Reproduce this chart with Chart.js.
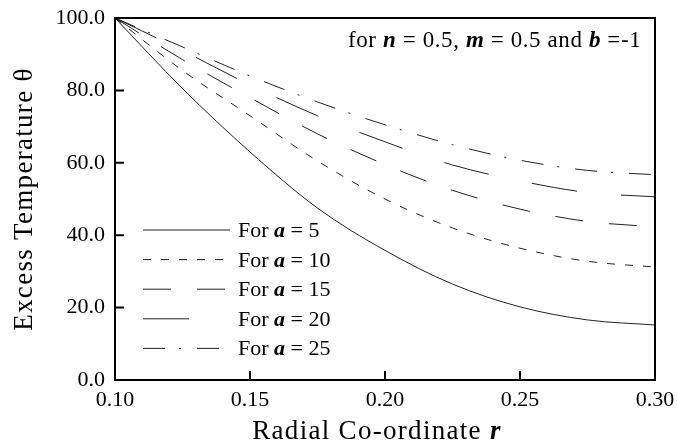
<!DOCTYPE html>
<html>
<head>
<meta charset="utf-8">
<script src="https://cdn.jsdelivr.net/npm/chart.js@4.4.1/dist/chart.umd.min.js"></script>
<style>
  html, body { margin: 0; padding: 0; background: #fff; }
  #wrap { width: 678px; height: 445px; }
</style>
</head>
<body>
<div id="wrap"><canvas id="chart" width="678" height="445"></canvas></div>
<script>
// radial co-ordinate r
const radius = [0.10, 0.125, 0.15, 0.175, 0.20, 0.225, 0.25, 0.275, 0.30];

// excess temperature for each a
const thetaA5  = [100, 80.5, 63.0, 47.5, 35.8, 26.5, 20.2, 16.6, 15.2];
const thetaA10 = [100, 85.5, 73.0, 60.5, 50.0, 42.0, 36.4, 32.8, 31.2];
const thetaA15 = [100, 88.5, 78.0, 68.0, 59.5, 52.4, 47.2, 43.8, 42.3];
const thetaA20 = [100, 91.0, 81.5, 73.0, 65.8, 59.4, 55.0, 51.8, 50.6];
const thetaA25 = [100, 92.0, 84.0, 76.8, 70.5, 65.0, 60.7, 57.9, 56.7];

const aValues = ['5', '10', '15', '20', '25'];
const dashes = [[], [8, 10], [28, 26], [46, 44], [22, 14, 2, 16]];
const seriesList = [thetaA5, thetaA10, thetaA15, thetaA20, thetaA25];

const SERIF = '"Liberation Serif", "Times New Roman", serif';

// draw a line of text made of runs with different fonts
function drawRuns(ctx, runs, x, y) {
    let cx = x;
    runs.forEach(([text, font]) => {
        ctx.font = font;
        ctx.fillText(text, cx, y);
        cx += ctx.measureText(text).width;
    });
}

const framePlugin = {
    id: 'frameAndText',
    afterDraw(chart) {
        const { ctx, chartArea: area, scales } = chart;
        ctx.save();

        // frame
        ctx.strokeStyle = '#000';
        ctx.lineWidth = 2;
        ctx.strokeRect(area.left, area.top, area.right - area.left, area.bottom - area.top);

        // inward ticks
        ctx.beginPath();
        scales.y.ticks.forEach(t => {
            const py = scales.y.getPixelForValue(t.value);
            ctx.moveTo(area.left, py);
            ctx.lineTo(area.left + 9, py);
        });
        scales.x.ticks.forEach(t => {
            const px = scales.x.getPixelForValue(t.value);
            ctx.moveTo(px, area.bottom);
            ctx.lineTo(px, area.bottom - 9);
        });
        ctx.stroke();

        ctx.fillStyle = '#000';
        ctx.textBaseline = 'alphabetic';
        ctx.textAlign = 'left';

        // legend
        chart.data.datasets.forEach((ds, i) => {
            const y = area.top + 212 + i * 29.6;
            ctx.strokeStyle = '#222';
            ctx.lineWidth = 1;
            ctx.setLineDash(ds.borderDash);
            ctx.beginPath();
            ctx.moveTo(area.left + 28, y);
            ctx.lineTo(area.left + 115, y);
            ctx.stroke();
            ctx.setLineDash([]);
            drawRuns(ctx, [
                ['For ', `22px ${SERIF}`],
                ['a', `italic bold 22px ${SERIF}`],
                [' = ' + aValues[i], `22px ${SERIF}`]
            ], area.left + 123, y + 7);
        });

        // annotation
        ctx.letterSpacing = '0.6px';
        drawRuns(ctx, [
            ['for ', `23px ${SERIF}`],
            ['n', `italic bold 23px ${SERIF}`],
            [' = 0.5, ', `23px ${SERIF}`],
            ['m', `italic bold 23px ${SERIF}`],
            [' = 0.5 and ', `23px ${SERIF}`],
            ['b', `italic bold 23px ${SERIF}`],
            [' =-1', `23px ${SERIF}`]
        ], area.left + 233, area.top + 29);

        // axis titles
        ctx.letterSpacing = '1.3px';
        const xt = [
            ['Radial Co-ordinate ', `27px ${SERIF}`],
            ['r', `italic bold 27px ${SERIF}`]
        ];
        let w = 0;
        xt.forEach(([t, f]) => { ctx.font = f; w += ctx.measureText(t).width; });
        drawRuns(ctx, xt, (area.left + area.right) / 2 - 8 - w / 2, 439);

        ctx.font = `27px ${SERIF}`;
        const yt = 'Excess Temperature \u03b8';
        const yw = ctx.measureText(yt).width;
        ctx.translate(32, (area.top + area.bottom) / 2);
        ctx.rotate(-Math.PI / 2);
        ctx.fillText(yt, -yw / 2, 0);

        ctx.restore();
    }
};

new Chart(document.getElementById('chart'), {
    type: 'line',
    data: {
        labels: radius,
        datasets: seriesList.map((vals, i) => ({
            label: 'For a = ' + aValues[i],
            data: vals.map((v, j) => ({ x: radius[j], y: v })),
            borderColor: '#222',
            borderWidth: 1,
            borderDash: dashes[i],
            pointRadius: 0,
            fill: false,
            cubicInterpolationMode: 'monotone'
        }))
    },
    options: {
        responsive: false,
        animation: false,
        devicePixelRatio: 1,
        layout: { padding: { left: 0, right: 23, top: 18, bottom: 0 } },
        plugins: {
            legend: { display: false },
            tooltip: { enabled: false }
        },
        scales: {
            x: {
                type: 'linear',
                min: 0.10,
                max: 0.30,
                grid: { display: false, drawTicks: false },
                border: { display: false },
                ticks: {
                    stepSize: 0.05,
                    padding: 3,
                    color: '#000',
                    font: { family: SERIF, size: 22, lineHeight: 1.55 },
                    callback: v => v.toFixed(2)
                },
                afterFit: s => { s.height = 65; }
            },
            y: {
                min: 0,
                max: 100,
                grid: { display: false, drawTicks: false },
                border: { display: false },
                ticks: {
                    stepSize: 20,
                    padding: 10,
                    color: '#000',
                    font: { family: SERIF, size: 22, lineHeight: 0.6 },
                    callback: v => v.toFixed(1)
                },
                afterFit: s => { s.width = 115; }
            }
        }
    },
    plugins: [framePlugin]
});
</script>
</body>
</html>
